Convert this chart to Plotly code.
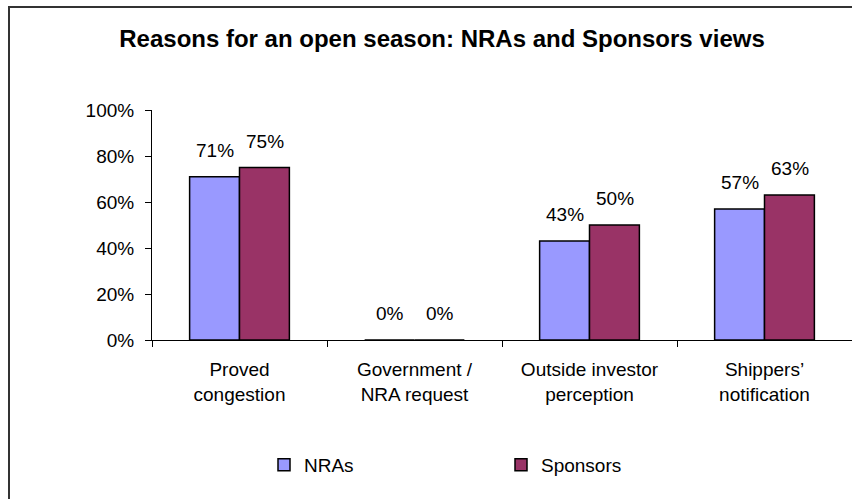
import plotly.graph_objects as go

# Survey results: share of respondents citing each reason
categories = ["Proved<br>congestion", "Government /<br>NRA request",
              "Outside investor<br>perception", "Shippers’<br>notification"]
nras = [0.71, 0.00, 0.43, 0.57]
sponsors = [0.75, 0.00, 0.50, 0.63]
y_ticks = [0, 0.2, 0.4, 0.6, 0.8, 1.0]
y_tick_labels = ["0%", "20%", "40%", "60%", "80%", "100%"]

W, H = 852, 499
L, R, T, B = 152, 0, 110, 159
PW, PH = W - L - R, H - T - B

FONT = "Liberation Sans, Arial, sans-serif"
FS = 19


def px_x(p):
    return (p - L) / PW


def px_y(p):
    return (H - B - p) / PH


fig = go.Figure()
fig.add_trace(go.Bar(name="NRAs", x=categories, y=nras,
                     marker=dict(color="#9999FF", line=dict(color="#000000", width=1.5))))
fig.add_trace(go.Bar(name="Sponsors", x=categories, y=sponsors,
                     marker=dict(color="#993366", line=dict(color="#000000", width=1.5))))

# value labels above each bar
annotations = []
for series, shift in ((nras, -25), (sponsors, 25)):
    for cat, v in zip(categories, series):
        annotations.append(dict(x=cat, y=v, xref="x", yref="y", text=f"{round(v * 100)}%",
                                showarrow=False, xshift=shift, yanchor="bottom", yshift=14,
                                font=dict(family=FONT, size=FS, color="#000000")))

fig.update_layout(
    width=W, height=H,
    margin=dict(l=L, r=R, t=T, b=B),
    paper_bgcolor="white", plot_bgcolor="white",
    barmode="group", bargap=0.43, bargroupgap=0,
    title=dict(text="<b>Reasons for an open season: NRAs and Sponsors views</b>",
               x=px_x(442), xref="paper", xanchor="center",
               y=1 - 39 / H, yref="container", yanchor="middle",
               font=dict(family=FONT, size=24, color="#000000")),
    font=dict(family=FONT, size=FS, color="#000000"),
    showlegend=True,
    legend=dict(orientation="h", x=px_x(264), xanchor="left", y=px_y(465), yanchor="middle",
                yref="paper", entrywidth=192, font=dict(family=FONT, size=FS),
                bgcolor="rgba(0,0,0,0)"),
    annotations=annotations,
    shapes=[dict(type="rect", xref="paper", yref="paper",
                 x0=px_x(9), x1=px_x(870), y0=px_y(7), y1=px_y(520),
                 line=dict(color="#333333", width=2), fillcolor="rgba(0,0,0,0)", layer="below")],
)

fig.update_xaxes(showline=True, linecolor="#000000", linewidth=1, ticks="outside",
                 tickson="boundaries", ticklen=6, tickcolor="#000000", showgrid=False,
                 ticklabelstandoff=12,
                 tickfont=dict(family=FONT, size=FS, color="#000000"), fixedrange=True)
fig.update_yaxes(range=[0, 1], tickvals=y_ticks, ticktext=y_tick_labels, showline=True,
                 linecolor="#000000", linewidth=1, ticks="outside", ticklen=6,
                 tickcolor="#000000", showgrid=False, zeroline=False, ticklabelstandoff=7,
                 tickfont=dict(family=FONT, size=FS, color="#000000"), fixedrange=True)

fig.write_html("out.html")
